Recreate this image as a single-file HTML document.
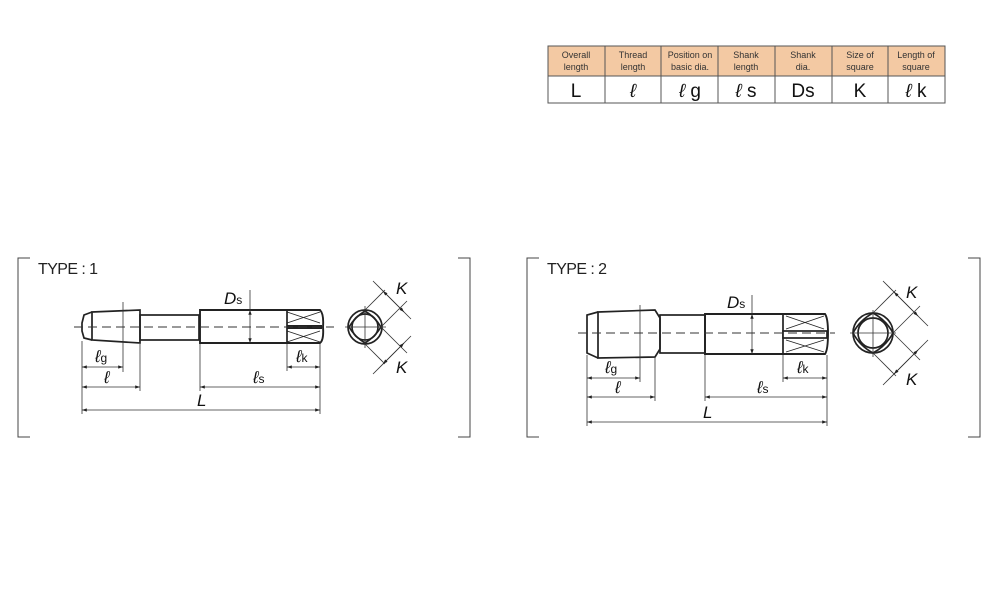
<!DOCTYPE html>
<html><head><meta charset="utf-8"><style>
body{margin:0;background:#fff}
svg{display:block}
text{font-family:"Liberation Sans",sans-serif}
</style></head><body>
<svg width="1000" height="600" viewBox="0 0 1000 600" xmlns="http://www.w3.org/2000/svg">
<defs>
<marker id="a" viewBox="0 0 10 10" refX="10" refY="5" markerWidth="6" markerHeight="6" orient="auto-start-reverse"><path d="M0,1.5 L10,5 L0,8.5 z" fill="#222"/></marker>
</defs>
<g font-size="9" fill="#333" text-anchor="middle">
<rect x="548" y="46" width="397" height="30" fill="#f3c9a3"/>
<rect x="548" y="46" width="397" height="57" fill="none" stroke="#555" stroke-width="1"/>
<line x1="548" y1="76" x2="945" y2="76" stroke="#555"/>
<g stroke="#555"><line x1="605" y1="46" x2="605" y2="103"/><line x1="661" y1="46" x2="661" y2="103"/><line x1="718" y1="46" x2="718" y2="103"/><line x1="775" y1="46" x2="775" y2="103"/><line x1="832" y1="46" x2="832" y2="103"/><line x1="888" y1="46" x2="888" y2="103"/></g>
<text x="576" y="58">Overall</text><text x="576" y="70">length</text>
<text x="633" y="58">Thread</text><text x="633" y="70">length</text>
<text x="690" y="58">Position on</text><text x="690" y="70">basic dia.</text>
<text x="746" y="58">Shank</text><text x="746" y="70">length</text>
<text x="803" y="58">Shank</text><text x="803" y="70">dia.</text>
<text x="860" y="58">Size of</text><text x="860" y="70">square</text>
<text x="916" y="58">Length of</text><text x="916" y="70">square</text>
<g font-size="19" fill="#111"><text x="576" y="97">L</text><text x="633" y="97" font-style="italic">ℓ</text><text x="690" y="97"><tspan font-style="italic">ℓ</tspan> g</text><text x="746" y="97"><tspan font-style="italic">ℓ</tspan> s</text><text x="803" y="97">Ds</text><text x="860" y="97">K</text><text x="916" y="97"><tspan font-style="italic">ℓ</tspan> k</text></g>
</g>
<g fill="none" stroke="#444" stroke-width="1">
<path d="M30,258 H18 V437 H30"/><path d="M458,258 H470 V437 H458"/>
<path d="M539,258 H527 V437 H539"/><path d="M968,258 H980 V437 H968"/>
</g>
<text x="38" y="274" font-size="16" fill="#222" textLength="60">TYPE : 1</text>
<text x="547" y="274" font-size="16" fill="#222" textLength="60">TYPE : 2</text>

<g stroke="#222" fill="none" stroke-width="1.7">
<path d="M92,312 L140,310 L140,343 L92,340 Z"/>
<path d="M92,312 L84,315 L82,323 L82,331 L84,338 L92,340"/>
<rect x="140" y="315" width="59" height="25"/>
<path d="M200,310 H320 Q324,314 323,327 Q324,340 320,343 H200 Z" stroke-width="1.9"/>
<line x1="287" y1="310" x2="287" y2="343"/>
<line x1="287" y1="327" x2="322" y2="327" stroke-width="4"/>
<g stroke-width="0.9"><path d="M287,312 L320,323 M287,323 L320,312 M287,331 L320,342 M287,342 L320,331"/></g>
</g>
<line x1="74" y1="327" x2="334" y2="327" stroke="#333" stroke-width="0.9" stroke-dasharray="9,5"/>
<g stroke="#333" stroke-width="0.8" fill="none">
<line x1="123" y1="302" x2="123" y2="372"/>
<line x1="82" y1="341" x2="82" y2="414"/><line x1="140" y1="344" x2="140" y2="391"/>
<line x1="200" y1="344" x2="200" y2="391"/><line x1="320" y1="344" x2="320" y2="414"/>
<line x1="287" y1="344" x2="287" y2="371"/>
<line x1="250" y1="290" x2="250" y2="310"/>
<line x1="250" y1="310" x2="250" y2="343" marker-start="url(#a)" marker-end="url(#a)"/>
<line x1="82" y1="367" x2="123" y2="367" marker-start="url(#a)" marker-end="url(#a)"/>
<line x1="82" y1="387" x2="140" y2="387" marker-start="url(#a)" marker-end="url(#a)"/>
<line x1="200" y1="387" x2="320" y2="387" marker-start="url(#a)" marker-end="url(#a)"/>
<line x1="287" y1="367" x2="320" y2="367" marker-start="url(#a)" marker-end="url(#a)"/>
<line x1="82" y1="410" x2="320" y2="410" marker-start="url(#a)" marker-end="url(#a)"/>
</g>
<g fill="#111" font-size="17" font-style="italic">
<text x="224" y="304">D<tspan font-size="12" font-style="normal">s</tspan></text>
<text x="95" y="362">ℓ<tspan font-size="12" font-style="normal">g</tspan></text>
<text x="104" y="383">ℓ</text>
<text x="253" y="383">ℓ<tspan font-size="12" font-style="normal">s</tspan></text>
<text x="296" y="362">ℓ<tspan font-size="12" font-style="normal">k</tspan></text>
<text x="197" y="406">L</text>
<text x="396" y="294">K</text><text x="396" y="373">K</text>
</g>
<g stroke="#222" fill="none" stroke-width="1.7">
<circle cx="365" cy="327" r="17"/><circle cx="365" cy="327" r="13"/>
<path d="M365,311 Q375,317 381,327 Q375,337 365,343 Q355,337 349,327 Q355,317 365,311 Z"/>
</g>
<g stroke="#333" stroke-width="0.8">
<line x1="345" y1="327" x2="386" y2="327"/><line x1="365" y1="306" x2="365" y2="348"/>
<line x1="365" y1="310" x2="385" y2="290"/><line x1="381" y1="327" x2="407" y2="301"/>
<line x1="381" y1="327" x2="407" y2="353"/><line x1="365" y1="344" x2="385" y2="364"/>
<line x1="373" y1="281" x2="411" y2="319"/><line x1="411" y1="336" x2="373" y2="374"/>
<line x1="383" y1="291" x2="404" y2="312" marker-start="url(#a)" marker-end="url(#a)"/>
<line x1="404" y1="343" x2="383" y2="364" marker-start="url(#a)" marker-end="url(#a)"/>
</g>

<g stroke="#222" fill="none" stroke-width="1.7">
<path d="M598,312 L655,310 L660,318 L660,349 L655,357 L598,358 Z"/>
<path d="M598,312 L587,315 L587,353 L598,358"/>
<rect x="660" y="315" width="45" height="38"/>
<path d="M705,314 H825 Q828,318 828,333 Q828,350 825,354 H705 Z" stroke-width="1.9"/>
<line x1="783" y1="314" x2="783" y2="354"/>
<rect x="783" y="331" width="44" height="7" fill="#fff"/>
<g stroke-width="0.9"><path d="M786,316 L824,329 M786,329 L824,316 M786,340 L824,352 M786,352 L824,340"/></g>
</g>
<line x1="578" y1="333" x2="835" y2="333" stroke="#333" stroke-width="0.9" stroke-dasharray="9,5"/>
<g stroke="#333" stroke-width="0.8" fill="none">
<line x1="640" y1="305" x2="640" y2="382"/>
<line x1="587" y1="355" x2="587" y2="426"/><line x1="655" y1="358" x2="655" y2="401"/>
<line x1="705" y1="355" x2="705" y2="401"/><line x1="827" y1="355" x2="827" y2="426"/>
<line x1="783" y1="355" x2="783" y2="382"/>
<line x1="752" y1="295" x2="752" y2="314"/>
<line x1="752" y1="314" x2="752" y2="354" marker-start="url(#a)" marker-end="url(#a)"/>
<line x1="587" y1="378" x2="640" y2="378" marker-start="url(#a)" marker-end="url(#a)"/>
<line x1="587" y1="397" x2="655" y2="397" marker-start="url(#a)" marker-end="url(#a)"/>
<line x1="705" y1="397" x2="827" y2="397" marker-start="url(#a)" marker-end="url(#a)"/>
<line x1="783" y1="378" x2="827" y2="378" marker-start="url(#a)" marker-end="url(#a)"/>
<line x1="587" y1="422" x2="827" y2="422" marker-start="url(#a)" marker-end="url(#a)"/>
</g>
<g fill="#111" font-size="17" font-style="italic">
<text x="727" y="308">D<tspan font-size="12" font-style="normal">s</tspan></text>
<text x="605" y="373">ℓ<tspan font-size="12" font-style="normal">g</tspan></text>
<text x="615" y="393">ℓ</text>
<text x="757" y="393">ℓ<tspan font-size="12" font-style="normal">s</tspan></text>
<text x="797" y="373">ℓ<tspan font-size="12" font-style="normal">k</tspan></text>
<text x="703" y="418">L</text>
<text x="906" y="298">K</text><text x="906" y="385">K</text>
</g>
<g stroke="#222" fill="none" stroke-width="1.7">
<circle cx="873" cy="333" r="20"/><circle cx="873" cy="333" r="15"/>
<path d="M873,313 Q886,320 893,333 Q886,346 873,353 Q860,346 853,333 Q860,320 873,313 Z"/>
</g>
<g stroke="#333" stroke-width="0.8">
<line x1="850" y1="333" x2="896" y2="333"/><line x1="873" y1="310" x2="873" y2="357"/>
<line x1="873" y1="313" x2="896" y2="290"/><line x1="893" y1="333" x2="920" y2="306"/>
<line x1="893" y1="333" x2="920" y2="360"/><line x1="873" y1="353" x2="896" y2="376"/>
<line x1="883" y1="281" x2="928" y2="326"/><line x1="928" y1="340" x2="883" y2="385"/>
<line x1="894" y1="292" x2="918" y2="316" marker-start="url(#a)" marker-end="url(#a)"/>
<line x1="918" y1="350" x2="894" y2="374" marker-start="url(#a)" marker-end="url(#a)"/>
</g>
</svg>
</body></html>
